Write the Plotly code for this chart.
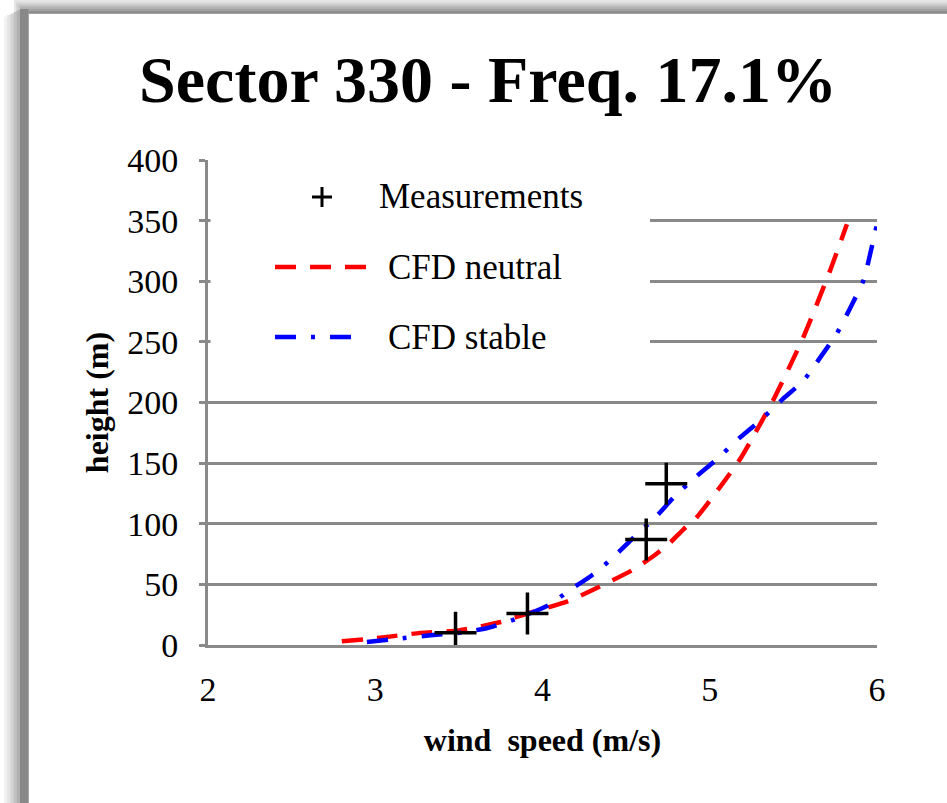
import plotly.graph_objects as go

# ---------------- data ----------------
meas_speed = [3.48, 3.91, 4.62, 4.74]
meas_height = [10, 26, 87, 133]

neutral_speed = [2.80, 3.03, 3.27, 3.50, 3.75, 3.91, 4.15, 4.34, 4.54, 4.66, 4.76,
                 4.84, 4.92, 5.06, 5.18, 5.26, 5.38, 5.56, 5.72, 5.82]
neutral_height = [3, 6, 10, 12, 19, 26, 36, 48, 62, 73, 84,
                  95, 105, 130, 153, 172, 202, 254, 309, 347]

stable_speed = [2.95, 3.12, 3.33, 3.50, 3.67, 3.87, 4.04, 4.15, 4.30, 4.42, 4.54,
                4.68, 4.80, 4.92, 5.04, 5.18, 5.30, 5.43, 5.56, 5.66, 5.76, 5.84,
                5.92, 5.96, 6.00]
stable_height = [2.5, 5, 8, 10, 14, 23, 33, 44, 58, 72, 88,
                 106, 124, 139, 153, 171, 185, 202, 218, 237, 257, 278,
                 301, 323, 347]

x_ticks = [2, 3, 4, 5, 6]
y_ticks = [0, 50, 100, 150, 200, 250, 300, 350, 400]

title_text = "Sector 330 - Freq. 17.1%"
x_title = "wind  speed (m/s)"
y_title = "height (m)"
names = ["Measurements", "CFD neutral", "CFD stable"]

# ---------------- layout geometry ----------------
W, H = 947, 803
L, R, T, B = 208, 70, 160, 158
PW, PH = W - L - R, H - T - B


def xp(px):
    return (px - L) / PW


def yp(py):
    return (H - B - py) / PH


SERIF = "Liberation Serif, Times New Roman, serif"
GRID = "#898989"
RED_DASH = "21px,14px"
BLUE_DASH = "21px,15px,4px,15px"

fig = go.Figure()
fig.add_trace(go.Scatter(x=neutral_speed, y=neutral_height, mode="lines",
                         name=names[1],
                         line=dict(color="#ff0000", width=4.5, dash=RED_DASH,
                                   shape="spline", smoothing=0.6)))
fig.add_trace(go.Scatter(x=stable_speed, y=stable_height, mode="lines",
                         name=names[2],
                         line=dict(color="#0000ff", width=4.5, dash=BLUE_DASH,
                                   shape="spline", smoothing=0.6)))
fig.add_trace(go.Scatter(x=meas_speed, y=meas_height, mode="markers", name=names[0],
                         marker=dict(symbol="cross-thin", size=30, color="black",
                                     line=dict(color="black", width=3.5))))

shapes = []
# frame with shadow (top and left)
top_grays = ["#e6e6e6", "#d6d6d6", "#c6c6c6", "#b4b4b4", "#a2a2a2", "#8e8e8e"]
for i, g in enumerate(top_grays):
    y0 = i * 2.2
    shapes.append(dict(type="rect", xref="paper", yref="paper", layer="above",
                       x0=xp(14 + i * 2), x1=xp(W + 5), y0=yp(y0), y1=yp(13.5),
                       fillcolor=g, line=dict(width=0)))
left_grays = ["#f2f2f2", "#e4e4e4", "#d4d4d4", "#c2c2c2", "#b0b0b0", "#888888"]
for i, g in enumerate(left_grays):
    x0 = 4 + i * 3.2
    shapes.append(dict(type="rect", xref="paper", yref="paper", layer="above",
                       x0=xp(x0), x1=xp(28.5), y0=yp(9 + (5 - i) * 1.5), y1=yp(H + 5),
                       fillcolor=g, line=dict(width=0)))

# legend box (white) covering gridlines
shapes.append(dict(type="rect", xref="paper", yref="paper", layer="above",
                   x0=xp(210.5), x1=xp(650), y0=yp(163), y1=yp(399),
                   fillcolor="white", line=dict(width=0)))
# legend symbols
shapes.append(dict(type="line", xref="paper", yref="paper", layer="above",
                   x0=xp(312), x1=xp(332), y0=yp(197), y1=yp(197),
                   line=dict(color="black", width=3)))
shapes.append(dict(type="line", xref="paper", yref="paper", layer="above",
                   x0=xp(322), x1=xp(322), y0=yp(187), y1=yp(207),
                   line=dict(color="black", width=3)))
shapes.append(dict(type="line", xref="paper", yref="paper", layer="above",
                   x0=xp(275), x1=xp(368), y0=yp(267), y1=yp(267),
                   line=dict(color="#ff0000", width=4.5, dash=RED_DASH)))
shapes.append(dict(type="line", xref="paper", yref="paper", layer="above",
                   x0=xp(275), x1=xp(352), y0=yp(337), y1=yp(337),
                   line=dict(color="#0000ff", width=4.5, dash=BLUE_DASH)))

annotations = [
    dict(text=names[0], x=xp(377), y=yp(197), xref="paper", yref="paper",
         xanchor="left", yanchor="middle", showarrow=False,
         font=dict(family=SERIF, size=35, color="black")),
    dict(text=names[1], x=xp(386), y=yp(267), xref="paper", yref="paper",
         xanchor="left", yanchor="middle", showarrow=False,
         font=dict(family=SERIF, size=35, color="black")),
    dict(text=names[2], x=xp(386), y=yp(337), xref="paper", yref="paper",
         xanchor="left", yanchor="middle", showarrow=False,
         font=dict(family=SERIF, size=35, color="black")),
]

fig.update_layout(
    width=W, height=H,
    margin=dict(l=L, r=R, t=T, b=B),
    paper_bgcolor="white", plot_bgcolor="white",
    showlegend=False,
    title=dict(text=title_text, x=488 / W, xref="container", xanchor="center",
               y=1 - 79 / H, yref="container", yanchor="middle",
               font=dict(family=SERIF, size=66, color="black", weight="bold")),
    xaxis=dict(range=[2, 6], tickvals=x_ticks, ticktext=[str(v) for v in x_ticks],
               showgrid=False, zeroline=False, showline=True, linecolor=GRID, linewidth=3,
               ticks="", ticklabelstandoff=12,
               tickfont=dict(family=SERIF, size=34, color="black"),
               title=dict(text=x_title, standoff=22,
                          font=dict(family=SERIF, size=32, color="black", weight="bold"))),
    yaxis=dict(range=[0, 400], tickvals=y_ticks, ticktext=[str(v) for v in y_ticks],
               showgrid=True, gridcolor=GRID, gridwidth=3, zeroline=False,
               showline=True, linecolor=GRID, linewidth=3,
               ticks="outside", ticklen=6, tickwidth=3, tickcolor=GRID,
               ticklabelstandoff=14,
               tickfont=dict(family=SERIF, size=34, color="black"),
               title=dict(text=y_title, standoff=10,
                          font=dict(family=SERIF, size=32, color="black", weight="bold"))),
    shapes=shapes,
    annotations=annotations,
)

fig.write_html("out.html")
